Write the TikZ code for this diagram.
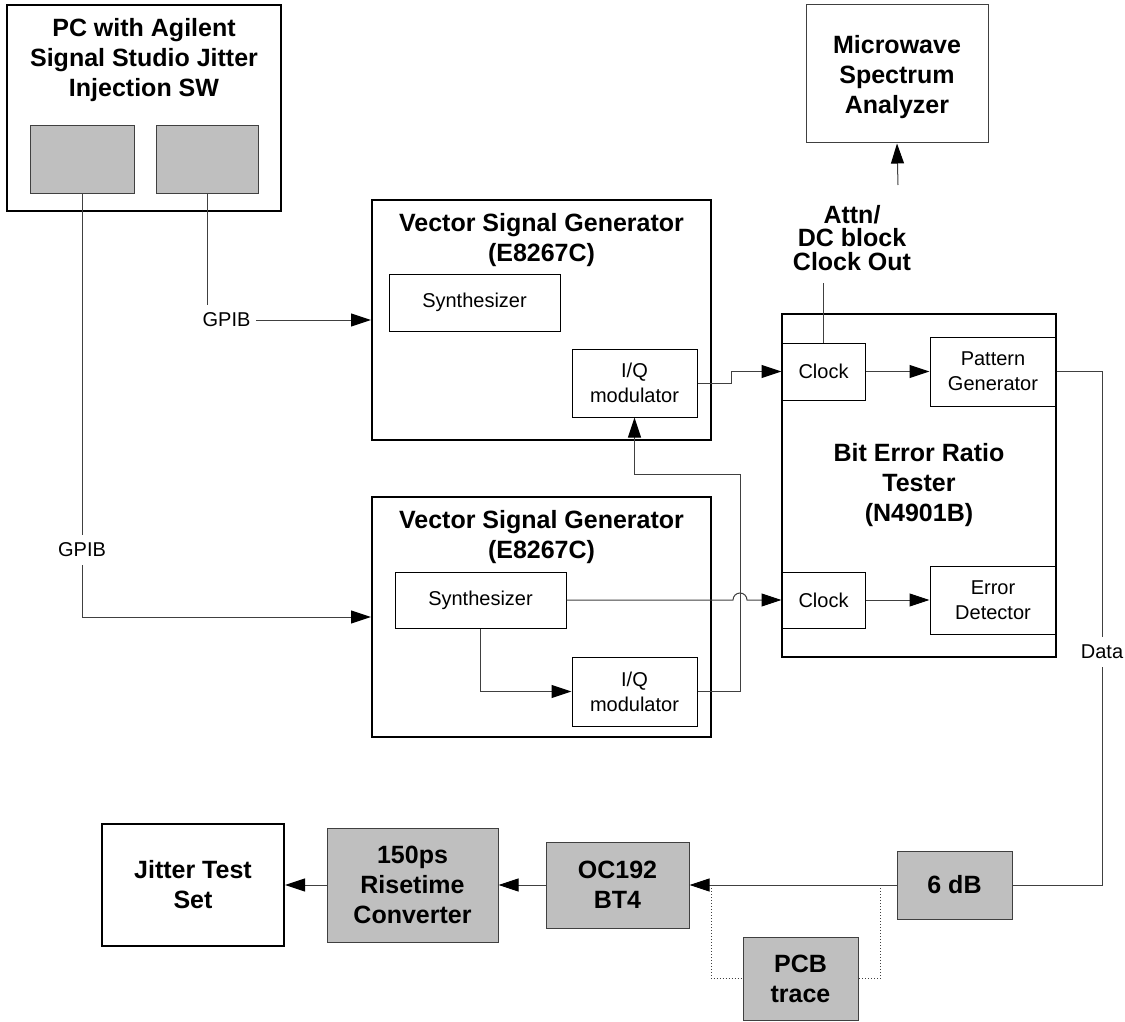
\documentclass[tikz,border=0pt]{standalone}
\usepackage{fontspec}
\setmainfont{Liberation Sans}
\usetikzlibrary{positioning,arrows.meta}
\tikzset{
  sz/.style 2 args={minimum width={#1*0.5pt},minimum height={#2*0.5pt}},
  unit/.style={draw,rectangle,line width=1pt,inner sep=0pt},
  part/.style={draw,rectangle,line width=0.5pt,inner sep=0pt,align=center,font=\fontsize{10}{12.5}\selectfont},
  grey/.style={draw=black!75,fill=black!25,rectangle,line width=0.5pt,inner sep=0pt,align=center,font=\bfseries\fontsize{12.5}{15}\selectfont},
  head/.style={align=center,inner sep=0pt,font=\bfseries\fontsize{12.5}{15}\selectfont},
  tag/.style={inner xsep=2.5pt,inner ysep=4pt,font=\fontsize{10}{12}\selectfont},
  wire/.style={draw=black!75,line width=0.5pt},
  arr/.style={wire,-{Triangle[length=10pt,width=6.5pt,black]}},
  trace/.style={wire,densely dotted}
}
\begin{document}
\begin{tikzpicture}[x=0.5pt,y=-0.5pt]
\useasboundingbox (0,0) rectangle (1125,1022);

% PC and spectrum analyzer
\node[unit,line width=0.6pt,sz={274}{206}] (pc) at (144,108) {};
\node[head] (pcTitle) at (144,60) {PC with Agilent\\Signal Studio Jitter\\Injection SW};
\node[grey,sz={104}{68}] (pcA) at (82,160) {};
\node[grey,sz={102}{68}] (pcB) at (207,160) {};
\node[draw=black!75,line width=0.5pt,sz={182}{138}] (mw) at (897,74) {};
\node[head] (mwText) at (897,77) {Microwave\\Spectrum\\Analyzer};

% signal generators
\node[unit,sz={339}{240}] (vsgA) at (541.5,320) {};
\node[head] (vsgATitle) at (541.5,240) {Vector Signal Generator\\(E8267C)};
\node[part,sz={171}{57}] (synA) at (474.5,302.5) {Synthesizer};
\node[part,sz={125}{68}] (iqA) at (634.5,383) {I/Q\\modulator};

\node[unit,sz={339}{240}] (vsgB) at (541.5,617) {};
\node[head] (vsgBTitle) at (541.5,537) {Vector Signal Generator\\(E8267C)};
\node[part,sz={171}{56}] (synB) at (480.5,600) {Synthesizer};
\node[part,sz={125}{69}] (iqB) at (634.5,691.5) {I/Q\\modulator};

% BERT
\node[unit,sz={274}{343}] (bert) at (919,485.5) {};
\node[head] (bertTitle) at (919,485) {Bit Error Ratio\\Tester\\(N4901B)};
\node[part,sz={83}{57}] (clkA) at (823.5,371.5) {Clock};
\node[part,sz={126}{69}] (pgen) at (993,371.5) {Pattern\\Generator};
\node[part,sz={83}{56}] (clkB) at (823.5,600) {Clock};
\node[part,sz={126}{68}] (edet) at (993,600) {Error\\Detector};

% labels
\node[head,font=\bfseries\fontsize{12.5}{11.7}\selectfont] (attn) at (852,238) {Attn/\\DC block\\Clock Out};
\node[tag] (gpibA) at (226.5,320) {GPIB};
\node[tag] (gpibB) at (82,550) {GPIB};
\node[tag] (data) at (1102,652) {Data};
\coordinate (mwIn) at (898,185);
\coordinate (coTop) at (823.5,283);
\coordinate (fb) at (740,474);
\coordinate (hop) at (740,600);
\coordinate (tapL) at (711,885);
\coordinate (tapR) at (880,885);

% bottom chain
\node[unit,head,sz={182}{122}] (jts) at (193,885) {Jitter Test\\Set};
\node[grey,sz={171}{114}] (rise) at (412.5,885) {150ps\\Risetime\\Converter};
\node[grey,sz={143}{86}] (ocbt) at (617.5,885) {OC192\\BT4};
\node[grey,sz={115}{68}] (att) at (954.5,885) {6 dB};
\node[grey,sz={115}{83}] (pcb) at (800.5,978.5) {PCB\\trace};

% connectors
\draw[wire] (pcB.south) -- (pcB.south |- gpibA.north);
\draw[arr] (gpibA.east) -- (gpibA.east -| vsgA.west);
\draw[wire] (pcA.south) -- (gpibB.north);
\draw[arr] (gpibB.south) |- (vsgB.west);
\draw[arr] (iqA.east) -- ++(34,0) |- (clkA.west);
\draw[arr] (clkA.east) -- (pgen.west);
\draw[arr] (clkB.east) -- (edet.west);
\draw[arr] (synB.south) |- (iqB.west);
\draw[arr] (iqB.east) -| (fb) -| (iqA.south);
\draw[arr] (synB.east) -- ([xshift=-3.5pt]hop) arc[start angle=180,end angle=0,radius=3.5pt] -- (clkB.west);
\draw[wire] (clkA.north) -- (coTop);
\draw[arr] (mwIn) -- (mw.south);
\draw[wire] (pgen.east) -| (data.north);
\draw[wire] (data.south) |- (att.east);
\draw[arr] (att.west) -- (ocbt.east);
\draw[trace] (tapR) |- (pcb.east);
\draw[trace] (tapL) |- (pcb.west);
\draw[arr] (ocbt.west) -- (rise.east);
\draw[arr] (rise.west) -- (jts.east);
\end{tikzpicture}
\end{document}
